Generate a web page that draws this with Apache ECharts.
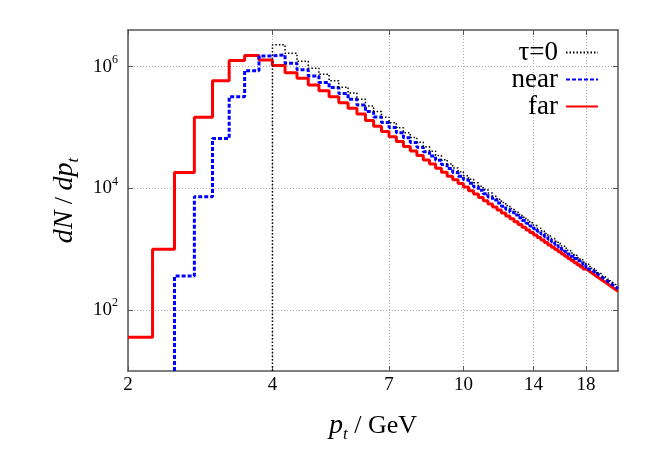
<!DOCTYPE html>
<html>
<head>
<meta charset="utf-8">
<script src="https://cdn.jsdelivr.net/npm/echarts@6/dist/echarts.min.js"></script>
<style>
  html, body { margin: 0; padding: 0; background: #fff; }
  #chart { width: 654px; height: 461px; }
</style>
</head>
<body>
<div id="chart"></div>
<script>
// histogram bins: width 0.25 GeV, first bin of each series starts at the given pt
const binWidth = 0.25;
const yMin = 10;

const tau0Start = 4.0;
const tau0 = [
  2280000, 1660000, 1230000, 942000, 750000, 585000, 460000, 368000,
  292000, 225000, 183000, 148000, 120000, 99100, 82200, 68500,
  57300, 48200, 40800, 34600, 29600, 25200, 21700, 18700,
  16200, 14100, 12400, 10800, 9550, 8410, 7450, 6610,
  5860, 5220, 4670, 4180, 3740, 3370, 3030, 2730,
  2460, 2220, 2010, 1820, 1650, 1500, 1360, 1240,
  1130, 1040, 946, 867, 794, 729, 670, 617,
  566, 522, 482, 446, 412, 382, 354, 329,
  305, 284, 264, 247
];

const nearStart = 2.5;
const near = [
  362, 7300, 66000, 321000, 860000, 1500000,
  1560000, 1140000, 889000, 703000, 550000, 454000, 361000, 292000,
  234000, 183000, 149000, 121000, 100000, 81800, 68100, 56700,
  47600, 40100, 34000, 28900, 24800, 21200, 18300, 15800,
  13800, 12100, 10600, 9290, 8200, 7240, 6430, 5730,
  5090, 4550, 4070, 3660, 3290, 2960, 2680, 2420,
  2180, 1970, 1780, 1610, 1460, 1330, 1210, 1100,
  1000, 918, 839, 769, 705, 647, 594, 547,
  505, 467, 433, 400, 371, 344, 319, 298,
  277, 258, 240, 225
];

const farStart = 2.0;
const far = [
  36, 1000, 18300, 147000, 589000, 1260000, 1520000, 1290000,
  1040000, 796000, 644000, 500000, 403000, 321000, 256000, 207000,
  166000, 130000, 105000, 85900, 70800, 58700, 48900, 41100,
  34700, 29400, 25100, 21400, 18400, 15900, 13800, 12000,
  10500, 9170, 8060, 7100, 6280, 5560, 4940, 4400,
  3930, 3520, 3160, 2840, 2550, 2310, 2080, 1890,
  1710, 1560, 1420, 1290, 1180, 1080, 990, 908,
  834, 767, 706, 651, 601, 556, 514, 476,
  442, 410, 381, 354, 330, 307, 287, 268,
  250, 234, 219, 205
];

const xTicks = [2, 4, 7, 10, 14, 18];
const yTicks = [100, 10000, 1000000];

// step outline of a histogram, optionally starting with a vertical edge from the bottom
function steps(start, vals, fromBottom) {
  const pts = fromBottom ? [[start, yMin]] : [];
  vals.forEach(function (v, i) { pts.push([start + i * binWidth, v]); });
  pts.push([start + vals.length * binWidth, vals[vals.length - 1]]);
  return pts;
}

const serif = 'Liberation Serif';
const axisColor = '#555';
const gridLine = { show: true, lineStyle: { color: '#aaa', width: 1, type: [1, 2] } };

const chart = echarts.init(document.getElementById('chart'));
chart.setOption({
  animation: false,
  backgroundColor: '#fff',
  grid: { left: 128, top: 30, right: 36, bottom: 90 },
  legend: {
    orient: 'vertical',
    right: 50,
    top: 34,
    align: 'right',
    itemWidth: 32,
    itemHeight: 14,
    itemGap: 0,
    itemStyle: { opacity: 0 },
    textStyle: { fontFamily: serif, fontSize: 27, color: '#000', lineHeight: 26, padding: [0, 3, 0, 0] },
    data: ['τ=0', 'near', 'far']
  },
  xAxis: [{
    type: 'log',
    logBase: 10,
    min: 2,
    max: 21,
    nameLocation: 'middle',
    nameGap: 38,
    name: '{i|p}{sub|t}{n| / GeV}',
    nameTextStyle: {
      rich: {
        i: { fontFamily: serif, fontStyle: 'italic', fontSize: 28, color: '#000' },
        sub: { fontFamily: serif, fontStyle: 'italic', fontSize: 17, color: '#000', verticalAlign: 'bottom', lineHeight: 34 },
        n: { fontFamily: serif, fontSize: 26, color: '#000' }
      }
    },
    axisLine: { show: true, lineStyle: { color: axisColor, width: 1.5 } },
    axisTick: { inside: true, length: 5, customValues: xTicks, lineStyle: { color: axisColor } },
    axisLabel: { customValues: xTicks, fontFamily: serif, fontSize: 19, color: '#000', margin: 5 },
    splitLine: gridLine
  }, {
    type: 'log',
    logBase: 10,
    min: 2,
    max: 21,
    position: 'top',
    axisLine: { show: true, lineStyle: { color: axisColor, width: 1.5 } },
    axisTick: { inside: true, length: 5, customValues: xTicks, lineStyle: { color: axisColor } },
    axisLabel: { show: false },
    splitLine: { show: false }
  }],
  yAxis: [{
    type: 'log',
    logBase: 10,
    min: yMin,
    max: 4000000,
    nameLocation: 'middle',
    nameGap: 44,
    name: '{i|dN} / {i|dp}{sub|t}',
    nameTextStyle: {
      fontFamily: serif,
      fontSize: 26,
      color: '#000',
      rich: {
        i: { fontFamily: serif, fontStyle: 'italic', fontSize: 28, color: '#000' },
        sub: { fontFamily: serif, fontStyle: 'italic', fontSize: 17, color: '#000', verticalAlign: 'bottom', lineHeight: 34 }
      }
    },
    axisLine: { show: true, lineStyle: { color: axisColor, width: 1.5 } },
    axisTick: { inside: true, length: 5, customValues: yTicks, lineStyle: { color: axisColor } },
    axisLabel: {
      customValues: yTicks,
      margin: 10,
      formatter: function (v) {
        return '{b|10}{s|' + Math.round(Math.log10(v)) + '}';
      },
      rich: {
        b: { fontFamily: serif, fontSize: 19, color: '#000' },
        s: { fontFamily: serif, fontSize: 12, color: '#000', verticalAlign: 'top', lineHeight: 26 }
      }
    },
    splitLine: gridLine
  }, {
    type: 'log',
    logBase: 10,
    min: yMin,
    max: 4000000,
    position: 'right',
    axisLine: { show: true, lineStyle: { color: axisColor, width: 1.5 } },
    axisTick: { inside: true, length: 5, customValues: yTicks, lineStyle: { color: axisColor } },
    axisLabel: { show: false },
    splitLine: { show: false }
  }],
  series: [{
    name: 'τ=0',
    type: 'line',
    step: 'end',
    symbol: 'none',
    data: steps(tau0Start, tau0, true),
    lineStyle: { color: '#000', width: 1.5, type: [1.5, 2] },
    itemStyle: { color: '#000' },
    z: 4
  }, {
    name: 'near',
    type: 'line',
    step: 'end',
    symbol: 'none',
    data: steps(nearStart, near, true),
    lineStyle: { color: '#0000ff', width: 3, type: [4, 2] },
    itemStyle: { color: '#0000ff' },
    z: 3
  }, {
    name: 'far',
    type: 'line',
    step: 'end',
    symbol: 'none',
    data: steps(farStart, far, false),
    lineStyle: { color: '#ff0000', width: 3 },
    itemStyle: { color: '#ff0000' },
    z: 2
  }]
});
</script>
</body>
</html>
